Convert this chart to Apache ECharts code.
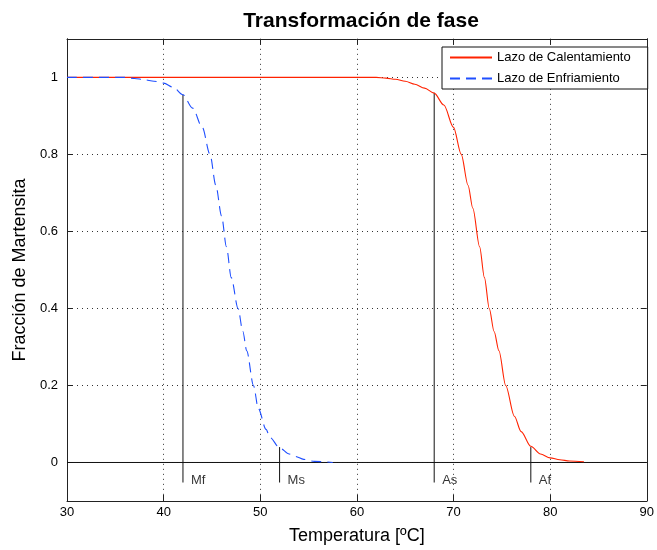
<!DOCTYPE html>
<html>
<head>
<meta charset="utf-8">
<script src="https://cdn.jsdelivr.net/npm/echarts/dist/echarts.min.js"></script>
<style>html,body{margin:0;padding:0;background:#fff;}#c{width:657px;height:550px;}</style>
</head>
<body>
<div id="c"></div>
<script>
// Heating loop (Lazo de Calentamiento)
var heatT = [30, 62, 63, 64, 65, 66, 67, 68, 69, 70, 70.8, 71.5, 72, 72.7, 73.2, 73.7, 74.2, 74.7, 75.4, 76.3, 77, 78, 79, 80, 81, 82, 83.5];
var heatF = [1, 1, 0.998, 0.995, 0.99, 0.982, 0.972, 0.959, 0.928, 0.87, 0.8, 0.72, 0.66, 0.56, 0.48, 0.4, 0.34, 0.29, 0.2, 0.12, 0.08, 0.042, 0.022, 0.012, 0.007, 0.004, 0.002];
// Cooling loop (Lazo de Enfriamiento)
var coolT = [30, 36, 37, 38, 39, 40, 41, 42, 43, 44, 44.8, 45.4, 46, 46.5, 47, 47.7, 48.2, 48.6, 49.3, 49.8, 50.6, 51, 52, 53, 53.6, 54.5, 55.6, 57.5];
var coolF = [1, 1, 0.997, 0.994, 0.99, 0.985, 0.974, 0.955, 0.92, 0.87, 0.8, 0.72, 0.64, 0.56, 0.48, 0.4, 0.34, 0.29, 0.2, 0.14, 0.086, 0.065, 0.038, 0.022, 0.016, 0.008, 0.003, 0];
// Transformation temperatures
var markNames = ['Mf', 'Ms', 'As', 'Af'];
var markTemps = [42, 52, 68, 78];
var markTops = [0.955, 0.04, 0.96, 0.04];
var markBottom = -0.052;
var markLabelY = -0.047;
// Axis ticks
var xMin = 30, xMax = 90, xStep = 10;
var yMin = -0.1, yMax = 1.1;
var yTicks = [0, 0.2, 0.4, 0.6, 0.8, 1];
var zeroLine = [[30, 0], [90, 0]];
var seriesNames = ['Lazo de Calentamiento', 'Lazo de Enfriamiento'];

var FONT = "'Liberation Sans', Arial, Helvetica, sans-serif";
function zip(a, b) { return a.map(function (v, i) { return [v, b[i]]; }); }

var axisLineStyle = { show: true, onZero: false, lineStyle: { color: '#222', width: 1 } };
var tickStyle = { show: true, inside: true, length: 6, lineStyle: { color: '#222', width: 1 } };
var dotted = { show: true, lineStyle: { color: '#333', width: 1, type: [1, 4] } };

var series = [
  {
    name: seriesNames[0], type: 'line', data: zip(heatT, heatF),
    showSymbol: false, symbol: 'none', smooth: 0.3, smoothMonotone: 'x',
    lineStyle: { color: '#ff2200', width: 1.1 }, itemStyle: { color: '#ff2200' }, z: 5
  },
  {
    name: seriesNames[1], type: 'line', data: zip(coolT, coolF),
    showSymbol: false, symbol: 'none', smooth: 0.3, smoothMonotone: 'x',
    lineStyle: { color: '#1f4fff', width: 1.1, type: [10, 6] }, itemStyle: { color: '#1f4fff' }, z: 6
  },
  {
    name: 'zero', type: 'line', data: zeroLine, symbol: 'none', silent: true,
    lineStyle: { color: '#111', width: 1 }, z: 4
  }
];
markTemps.forEach(function (t, i) {
  series.push({
    name: 'v' + markNames[i], type: 'line', data: [[t, markBottom], [t, markTops[i]]],
    symbol: 'none', silent: true, lineStyle: { color: '#111', width: 1 }, z: 4
  });
});
series.push({
  name: 'labels', type: 'scatter', symbolSize: 0, silent: true, z: 7,
  data: markTemps.map(function (t, i) { return { value: [t, markLabelY], name: markNames[i] }; }),
  label: { show: true, position: 'right', distance: 8, formatter: '{b}', color: '#000', fontFamily: FONT, fontSize: 13 }
});

var chart = echarts.init(document.getElementById('c'), null, { renderer: 'canvas' });
chart.setOption({
  animation: false,
  backgroundColor: '#fff',
  title: {
    text: 'Transformación de fase', left: 356, top: 6, textAlign: 'center',
    textStyle: { fontFamily: FONT, fontSize: 21, fontWeight: 'bold', color: '#000' }
  },
  legend: {
    data: seriesNames, orient: 'vertical', left: 442, top: 47,
    padding: [4, 17, 4, 7], itemGap: 8, itemWidth: 42, itemHeight: 14,
    backgroundColor: '#fff', borderColor: '#111', borderWidth: 1, borderRadius: 0,
    itemStyle: { opacity: 0, borderWidth: 0 },
    textStyle: { fontFamily: FONT, fontSize: 13, color: '#000' }
  },
  grid: { left: 67, top: 38.83, right: 4, bottom: 47, containLabel: false },
  xAxis: [
    {
      type: 'value', min: xMin, max: xMax, interval: xStep, position: 'bottom',
      name: 'Temperatura [ºC]', nameLocation: 'middle', nameGap: 26,
      nameTextStyle: { fontFamily: FONT, fontSize: 18, color: '#000' },
      axisLine: axisLineStyle, axisTick: tickStyle, splitLine: dotted,
      axisLabel: { fontFamily: FONT, fontSize: 13, color: '#000', margin: 5 }
    },
    {
      type: 'value', min: xMin, max: xMax, interval: xStep, position: 'top',
      axisLine: axisLineStyle, axisTick: tickStyle, splitLine: { show: false }, axisLabel: { show: false }
    }
  ],
  yAxis: [
    {
      type: 'value', min: yMin, max: yMax, position: 'left',
      name: 'Fracción de Martensita', nameLocation: 'middle', nameGap: 33, nameRotate: 90,
      nameTextStyle: { fontFamily: FONT, fontSize: 18, color: '#000' },
      axisLine: axisLineStyle,
      axisTick: Object.assign({}, tickStyle, { customValues: yTicks }),
      splitLine: dotted,
      axisLabel: { customValues: yTicks, fontFamily: FONT, fontSize: 13, color: '#000', margin: 9 }
    },
    {
      type: 'value', min: yMin, max: yMax, position: 'right',
      axisLine: axisLineStyle,
      axisTick: Object.assign({}, tickStyle, { customValues: yTicks }),
      splitLine: { show: false }, axisLabel: { show: false, customValues: yTicks }
    }
  ],
  series: series
});
</script>
</body>
</html>
